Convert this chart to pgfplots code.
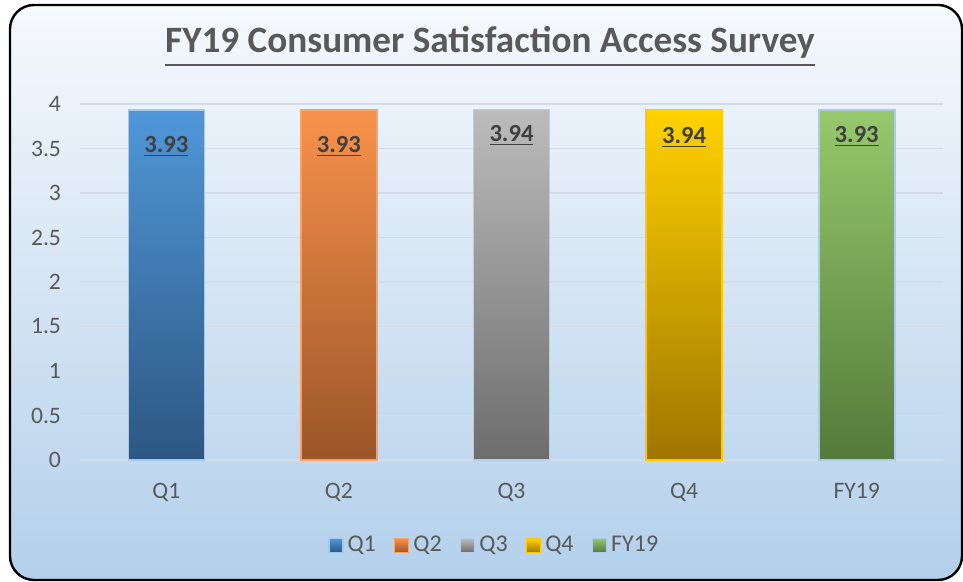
\documentclass[border=0pt]{standalone}
\usepackage{fontspec}
\setmainfont{Carlito}
\usepackage{pgfplots}
\pgfplotsset{compat=1.18}
\definecolor{txt}{HTML}{595959}
\definecolor{lbl}{HTML}{404040}
\definecolor{bgtop}{HTML}{F6F9FD}
\definecolor{bgbot}{HTML}{B3D0EB}
\definecolor{grd}{HTML}{D4DCE6}
\definecolor{qat}{HTML}{5097D9}\definecolor{qab}{HTML}{2C5781}\definecolor{qad}{HTML}{A7C8EA}
\definecolor{qbt}{HTML}{F8924B}\definecolor{qbb}{HTML}{9B5529}\definecolor{qbd}{HTML}{F4A46A}
\definecolor{qct}{HTML}{BCBCBC}\definecolor{qcb}{HTML}{6D6D6D}\definecolor{qcd}{HTML}{B5CFEA}
\definecolor{qdt}{HTML}{FFD200}\definecolor{qdb}{HTML}{9E7600}\definecolor{qdd}{HTML}{FFC800}
\definecolor{qet}{HTML}{96C96C}\definecolor{qeb}{HTML}{547A3A}\definecolor{qed}{HTML}{ABCBE8}
\begin{document}
\begin{tikzpicture}
\useasboundingbox (0,0) rectangle (481.5pt,291pt);
\fill[white] (0,0) rectangle (481.5pt,291pt);
\draw[line width=1.2pt, rounded corners=12pt, top color=bgtop, bottom color=bgbot] (5pt,1pt) rectangle (481pt,288.5pt);
\node[inner sep=0pt, anchor=base, text=txt, font=\fontsize{18.6}{21}\selectfont\bfseries] (T) at (245pt,264.5pt) {FY19 Consumer Satisfaction Access Survey};
\draw[txt, line width=1pt] ([yshift=-6pt]T.base west) -- ([yshift=-6pt]T.base east);
\begin{axis}[
  at={(40pt,61pt)}, anchor=south west,
  scale only axis, width=431.5pt, height=178pt,
  xmin=-0.5, xmax=4.5, ymin=0, ymax=4,
  xtick={0,1,2,3,4}, xticklabels={Q1,Q2,Q3,Q4,FY19},
  ytick={0,0.5,...,4},
  major tick length=0pt,
  axis line style={draw=none},
  ymajorgrids, major grid style={color=grd, line width=0.7pt},
  /pgf/number format/assume math mode=true,
  tick label style={font=\fontsize{11.8}{13}\selectfont, text=txt},
  yticklabel style={xshift=-6pt},
  xticklabel style={yshift=-8pt},
  legend style={at={(0.481,-0.240)}, anchor=center, legend columns=-1, draw=none, fill=none,
    font=\fontsize{12}{14}\selectfont, text=txt,
    /tikz/every even column/.append style={column sep=7pt}},
  legend cell align=left,
  clip=false,
]
\addplot[ybar, bar width=38pt, bar shift=0pt, draw=qad, line width=0.8pt, top color=qat, bottom color=qab,
  nodes near coords={\underline{3.93}},
  every node near coord/.append style={anchor=base, yshift=-21.25pt, font=\fontsize{12.3}{14}\selectfont\bfseries, text=lbl},
  legend image code/.code={\fill[top color=qat,bottom color=qab] (0pt,-3.5pt) rectangle (7pt,3.5pt);}]
  coordinates {(0,3.93)};
\addplot[ybar, bar width=38pt, bar shift=0pt, draw=qbd, line width=0.8pt, top color=qbt, bottom color=qbb,
  nodes near coords={\underline{3.93}},
  every node near coord/.append style={anchor=base, yshift=-21.25pt, font=\fontsize{12.3}{14}\selectfont\bfseries, text=lbl},
  legend image code/.code={\fill[top color=qbt,bottom color=qbb] (0pt,-3.5pt) rectangle (7pt,3.5pt);}]
  coordinates {(1,3.93)};
\addplot[ybar, bar width=38pt, bar shift=0pt, draw=qcd, line width=0.8pt, top color=qct, bottom color=qcb,
  nodes near coords={\underline{3.94}},
  every node near coord/.append style={anchor=base, yshift=-15.9pt, font=\fontsize{12.3}{14}\selectfont\bfseries, text=lbl},
  legend image code/.code={\fill[top color=qct,bottom color=qcb] (0pt,-3.5pt) rectangle (7pt,3.5pt);}]
  coordinates {(2,3.94)};
\addplot[ybar, bar width=38pt, bar shift=0pt, draw=qdd, line width=0.8pt, top color=qdt, bottom color=qdb,
  nodes near coords={\underline{3.94}},
  every node near coord/.append style={anchor=base, yshift=-17pt, font=\fontsize{12.3}{14}\selectfont\bfseries, text=lbl},
  legend image code/.code={\fill[top color=qdt,bottom color=qdb] (0pt,-3.5pt) rectangle (7pt,3.5pt);}]
  coordinates {(3,3.94)};
\addplot[ybar, bar width=38pt, bar shift=0pt, draw=qed, line width=0.8pt, top color=qet, bottom color=qeb,
  nodes near coords={\underline{3.93}},
  every node near coord/.append style={anchor=base, yshift=-15.9pt, font=\fontsize{12.3}{14}\selectfont\bfseries, text=lbl},
  legend image code/.code={\fill[top color=qet,bottom color=qeb] (0pt,-3.5pt) rectangle (7pt,3.5pt);}]
  coordinates {(4,3.93)};
\legend{Q1,Q2,Q3,Q4,FY19}
\end{axis}
\end{tikzpicture}
\end{document}
